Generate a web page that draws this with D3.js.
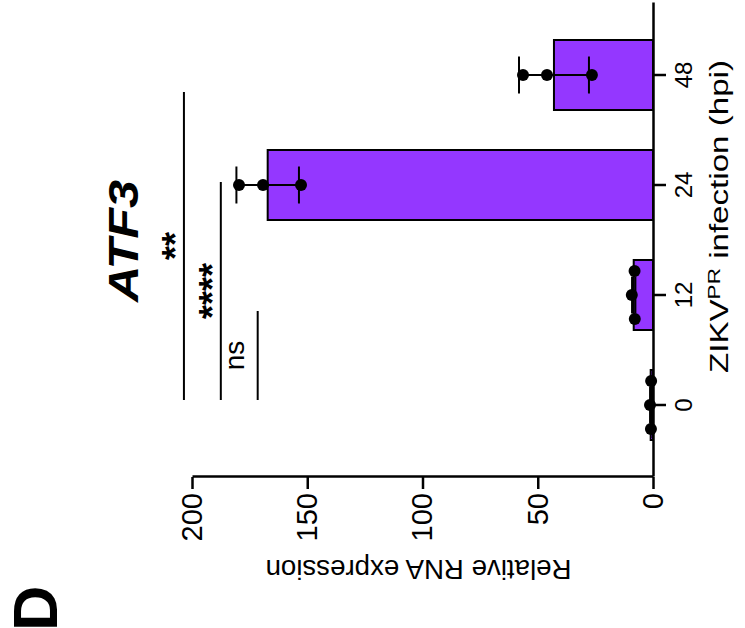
<!DOCTYPE html>
<html>
<head>
<meta charset="utf-8">
<script src="https://cdn.jsdelivr.net/npm/d3@7"></script>
<style>
  body { margin: 0; background: #fff; }
  svg { display: block; font-family: "Liberation Sans", Arial, sans-serif; }
</style>
</head>
<body>
<svg width="745" height="628"></svg>
<script>
// data
const categories = ["0", "12", "24", "48"];
const replicates = [
    [0.8, 1.3, 0.9],
    [8.0, 9.2, 7.9],
    [179.6, 169.2, 152.7],
    [56.4, 46.0, 26.5]
];
const yTicks = [0, 50, 100, 150, 200];
// comparisons vs 0 hpi, bracket height in data units
const comparisons = [
    { from: "0", to: "48", label: "**", level: 203.5 },
    { from: "0", to: "24", label: "****", level: 187.5 },
    { from: "0", to: "12", label: "ns", level: 171.5 }
];

const svg = d3.select('svg');
const W = +svg.attr('width');
const H = +svg.attr('height');

// whole figure is drawn upright, then turned a quarter turn
const g = svg.append('g')
    .attr('transform', `translate(0, ${H}) rotate(-90)`);

const x = d3.scaleBand()
    .domain(categories)
    .range([151, 625])
    .paddingInner(0.3636)
    .paddingOuter(0.3364);

const y = d3.scaleLinear()
    .domain([0, 200])
    .range([653, 192]);

const mean = a => d3.mean(a);
const sd = a => d3.deviation(a);

const purple = '#9437FF';

// bars
g.selectAll('rect.bar')
    .data(categories)
    .enter().append('rect')
    .attr('class', 'bar')
    .attr('x', d => x(d))
    .attr('width', x.bandwidth())
    .attr('y', (d, i) => y(mean(replicates[i])))
    .attr('height', (d, i) => y(0) - y(mean(replicates[i])))
    .attr('fill', purple)
    .attr('stroke', 'black')
    .attr('stroke-width', 2);

// error bars (SD)
const capHalf = 18.5;
categories.forEach((c, i) => {
    const cx = x(c) + x.bandwidth() / 2;
    const m = mean(replicates[i]), s = sd(replicates[i]);
    const eb = g.append('g').attr('stroke', 'black').attr('stroke-width', 2);
    eb.append('line')
        .attr('x1', cx).attr('x2', cx)
        .attr('y1', y(m - s)).attr('y2', y(m + s));
    [m - s, m + s].forEach(v => {
        eb.append('line')
            .attr('x1', cx - capHalf).attr('x2', cx + capHalf)
            .attr('y1', y(v)).attr('y2', y(v));
    });
});

// points, spread sideways when they would overlap
const r = 6;
categories.forEach((c, i) => {
    const cx = x(c) + x.bandwidth() / 2;
    const vals = replicates[i];
    const px = vals.map(v => y(v));
    const crowded = d3.max(px) - d3.min(px) < 2 * r;
    const n = vals.length;
    g.selectAll(null)
        .data(vals)
        .enter().append('circle')
        .attr('cx', (d, j) => cx + (crowded ? ((n - 1) / 2 - j) * 24 : 0))
        .attr('cy', d => y(d))
        .attr('r', r)
        .attr('fill', 'black');
});

// axes
const yAxis = g.append('g')
    .attr('transform', `translate(151, 0)`)
    .call(d3.axisLeft(y).tickValues(yTicks).tickSize(12).tickSizeOuter(0).tickPadding(4));

const xAxis = g.append('g')
    .attr('transform', `translate(0, 653)`)
    .call(d3.axisBottom(x).tickSize(13).tickSizeOuter(0).tickPadding(9));

[yAxis, xAxis].forEach(a => {
    a.select('.domain').attr('stroke-width', 2.5);
    a.selectAll('.tick line').attr('stroke-width', 2.5);
    a.selectAll('text').attr('font-family', null).attr('fill', 'black');
});
yAxis.selectAll('text').attr('font-size', 29);
xAxis.selectAll('text').attr('font-size', 24);

// axis titles
g.append('text')
    .attr('transform', `translate(68, ${(y(0) + y(200)) / 2 - 4}) rotate(-90)`)
    .attr('text-anchor', 'middle')
    .attr('font-size', 28)
    .attr('textLength', 306)
    .attr('lengthAdjust', 'spacingAndGlyphs')
    .text('Relative RNA expression');

const xl = g.append('text')
    .attr('x', 411.5)
    .attr('y', 728)
    .attr('text-anchor', 'middle')
    .attr('font-size', 25)
    .attr('textLength', 313)
    .attr('lengthAdjust', 'spacingAndGlyphs');
xl.append('tspan').text('ZIKV');
xl.append('tspan').attr('dy', -8).attr('font-size', 17).text('PR');
xl.append('tspan').attr('dy', 8).text(' infection (hpi)');

// title
g.append('text')
    .attr('x', (x.range()[0] + x.range()[1]) / 2 - 1)
    .attr('y', 138)
    .attr('text-anchor', 'middle')
    .attr('font-size', 42)
    .attr('font-weight', 'bold')
    .attr('font-style', 'italic')
    .attr('textLength', 122)
    .attr('lengthAdjust', 'spacingAndGlyphs')
    .text('ATF3');

// panel letter
g.append('text')
    .attr('x', -3)
    .attr('y', 57)
    .attr('font-size', 63)
    .attr('font-weight', 'bold')
    .text('D');

// significance brackets
const sigStartNudge = 5;
const sigEndNudge = [-17, 3, -16];
comparisons.forEach((cmp, k) => {
    const x1 = x(cmp.from) + x.bandwidth() / 2 + sigStartNudge;
    const x2 = x(cmp.to) + x.bandwidth() / 2 + sigEndNudge[k];
    const ly = y(cmp.level);
    g.append('line')
        .attr('x1', x1).attr('x2', x2)
        .attr('y1', ly).attr('y2', ly)
        .attr('stroke', 'black')
        .attr('stroke-width', 2);
    const star = cmp.label !== 'ns';
    g.append('text')
        .attr('x', (x1 + x2) / 2)
        .attr('y', star ? ly + 4 : ly - 14)
        .attr('text-anchor', 'middle')
        .attr('font-size', star ? 36 : 28)
        .attr('font-weight', star ? 'bold' : 'normal')
        .text(cmp.label);
});
</script>
</body>
</html>
